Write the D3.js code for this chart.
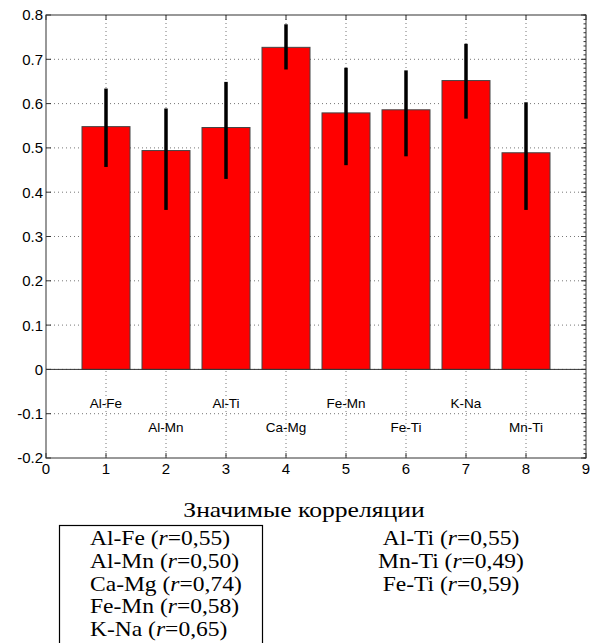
<!DOCTYPE html>
<html>
<head>
<meta charset="utf-8">
<script src="https://cdn.jsdelivr.net/npm/d3@7"></script>
<style>
  body { margin: 0; background: #fff; }
  svg { display: block; }
</style>
</head>
<body>
<div id="chart"></div>
<script>
// pairs of elements and their mean values with error ranges
let pairs = ["Al-Fe", "Al-Mn", "Al-Ti", "Ca-Mg", "Fe-Mn", "Fe-Ti", "K-Na", "Mn-Ti"];
let means = [0.548, 0.494, 0.546, 0.727, 0.579, 0.586, 0.652, 0.489];
let errLow = [0.457, 0.360, 0.430, 0.677, 0.461, 0.481, 0.566, 0.360];
let errHigh = [0.634, 0.589, 0.649, 0.779, 0.681, 0.675, 0.735, 0.603];

let xTicks = [0, 1, 2, 3, 4, 5, 6, 7, 8, 9];
let yTicks = [-0.2, -0.1, 0, 0.1, 0.2, 0.3, 0.4, 0.5, 0.6, 0.7, 0.8];

let caption = "Значимые корреляции";
let boxedList = [["Al-Fe", "0,55"], ["Al-Mn", "0,50"], ["Ca-Mg", "0,74"], ["Fe-Mn", "0,58"], ["K-Na", "0,65"]];
let freeList = [["Al-Ti", "0,55"], ["Mn-Ti", "0,49"], ["Fe-Ti", "0,59"]];

let W = 594, H = 643;
let svg = d3.select("#chart").append("svg").attr("width", W).attr("height", H);

let x = d3.scaleLinear().domain([0, 9]).range([46, 586]);
let y = d3.scaleLinear().domain([-0.2, 0.8]).range([458, 15]);
let axisColor = "#333";
let plotFont = "Liberation Sans, Arial, sans-serif";
let textFont = "Liberation Serif, Times New Roman, serif";

// grid (dotted)
let grid = svg.append("g");
grid.selectAll(".gx").data(xTicks.slice(1, -1)).enter().append("line")
    .attr("x1", d => x(d)).attr("x2", d => x(d))
    .attr("y1", y(0.8)).attr("y2", y(-0.2))
    .attr("stroke", "#777").attr("stroke-dasharray", "1,3");
grid.selectAll(".gy").data(yTicks.slice(1, -1)).enter().append("line")
    .attr("x1", x(0)).attr("x2", x(9))
    .attr("y1", d => y(d)).attr("y2", d => y(d))
    .attr("stroke", "#777").attr("stroke-dasharray", "1,3");

// bars
svg.selectAll(".bar").data(means).enter().append("rect")
    .attr("x", (d, i) => x(i + 1 - 0.4))
    .attr("width", x(0.8) - x(0))
    .attr("y", d => y(d))
    .attr("height", d => y(0) - y(d))
    .attr("fill", "#ff0000")
    .attr("stroke", "#444")
    .attr("stroke-width", 1);

// zero line
svg.append("line")
    .attr("x1", x(0)).attr("x2", x(9))
    .attr("y1", y(0)).attr("y2", y(0))
    .attr("stroke", axisColor);

// error bars
svg.selectAll(".err").data(means).enter().append("line")
    .attr("x1", (d, i) => x(i + 1)).attr("x2", (d, i) => x(i + 1))
    .attr("y1", (d, i) => y(errLow[i])).attr("y2", (d, i) => y(errHigh[i]))
    .attr("stroke", "#000").attr("stroke-width", 3.5);

// pair labels inside the plot, alternating heights
svg.selectAll(".plabel").data(pairs).enter().append("text")
    .attr("x", (d, i) => x(i + 1))
    .attr("y", (d, i) => y(i % 2 === 0 ? -0.077 : -0.13))
    .attr("dy", "0.36em")
    .attr("text-anchor", "middle")
    .attr("font-family", plotFont)
    .attr("font-size", 13.5)
    .text(d => d);

// axes box
svg.append("rect")
    .attr("x", x(0)).attr("y", y(0.8))
    .attr("width", x(9) - x(0)).attr("height", y(-0.2) - y(0.8))
    .attr("fill", "none").attr("stroke", axisColor);

// ticks pointing inward (bottom/top/left/right)
let tl = 5;
let ticks = svg.append("g").attr("stroke", axisColor);
xTicks.forEach(t => {
    ticks.append("line").attr("x1", x(t)).attr("x2", x(t)).attr("y1", y(-0.2)).attr("y2", y(-0.2) - tl);
    ticks.append("line").attr("x1", x(t)).attr("x2", x(t)).attr("y1", y(0.8)).attr("y2", y(0.8) + tl);
});
yTicks.forEach(t => {
    ticks.append("line").attr("x1", x(0)).attr("x2", x(0) + tl).attr("y1", y(t)).attr("y2", y(t));
    ticks.append("line").attr("x1", x(9)).attr("x2", x(9) - tl).attr("y1", y(t)).attr("y2", y(t));
});
// small minor ticks on the right side
d3.range(-20, 81).forEach(k => {
    let v = k / 100;
    ticks.append("line").attr("x1", x(9)).attr("x2", x(9) - 2.5).attr("y1", y(v)).attr("y2", y(v));
});

// tick labels
svg.selectAll(".xl").data(xTicks).enter().append("text")
    .attr("x", d => x(d)).attr("y", 474)
    .attr("text-anchor", "middle")
    .attr("font-family", plotFont).attr("font-size", 15)
    .text(d => d);
svg.selectAll(".yl").data(yTicks).enter().append("text")
    .attr("x", 43).attr("y", d => y(d)).attr("dy", "0.36em")
    .attr("text-anchor", "end")
    .attr("font-family", plotFont).attr("font-size", 15)
    .text(d => d === 0 ? "0" : d.toFixed(1));

// text below the chart, glyphs a bit wider than normal
let widen = stretch => function () {
    let w = this.getComputedTextLength();
    d3.select(this).attr("textLength", w * stretch).attr("lengthAdjust", "spacingAndGlyphs");
};

svg.append("text")
    .attr("x", 304).attr("y", 517)
    .attr("text-anchor", "middle")
    .attr("font-family", textFont).attr("font-size", 21)
    .text(caption)
    .each(widen(1.22));

svg.append("rect")
    .attr("x", 59.5).attr("y", 525.5)
    .attr("width", 203).attr("height", 130)
    .attr("fill", "none").attr("stroke", "#000").attr("stroke-width", 1.2);

let addEntry = (g, item) => {
    g.append("tspan").text(item[0] + " (");
    g.append("tspan").attr("font-style", "italic").text("r");
    g.append("tspan").text("=" + item[1] + ")");
};

boxedList.forEach((item, i) => {
    let t = svg.append("text")
        .attr("x", 90).attr("y", 545 + i * 22.8)
        .attr("font-family", textFont).attr("font-size", 21);
    addEntry(t, item);
    t.each(widen(1.12));
});

freeList.forEach((item, i) => {
    let t = svg.append("text")
        .attr("x", 451).attr("y", 545 + i * 22.8)
        .attr("text-anchor", "middle")
        .attr("font-family", textFont).attr("font-size", 21);
    addEntry(t, item);
    t.each(widen(1.12));
});
</script>
</body>
</html>
